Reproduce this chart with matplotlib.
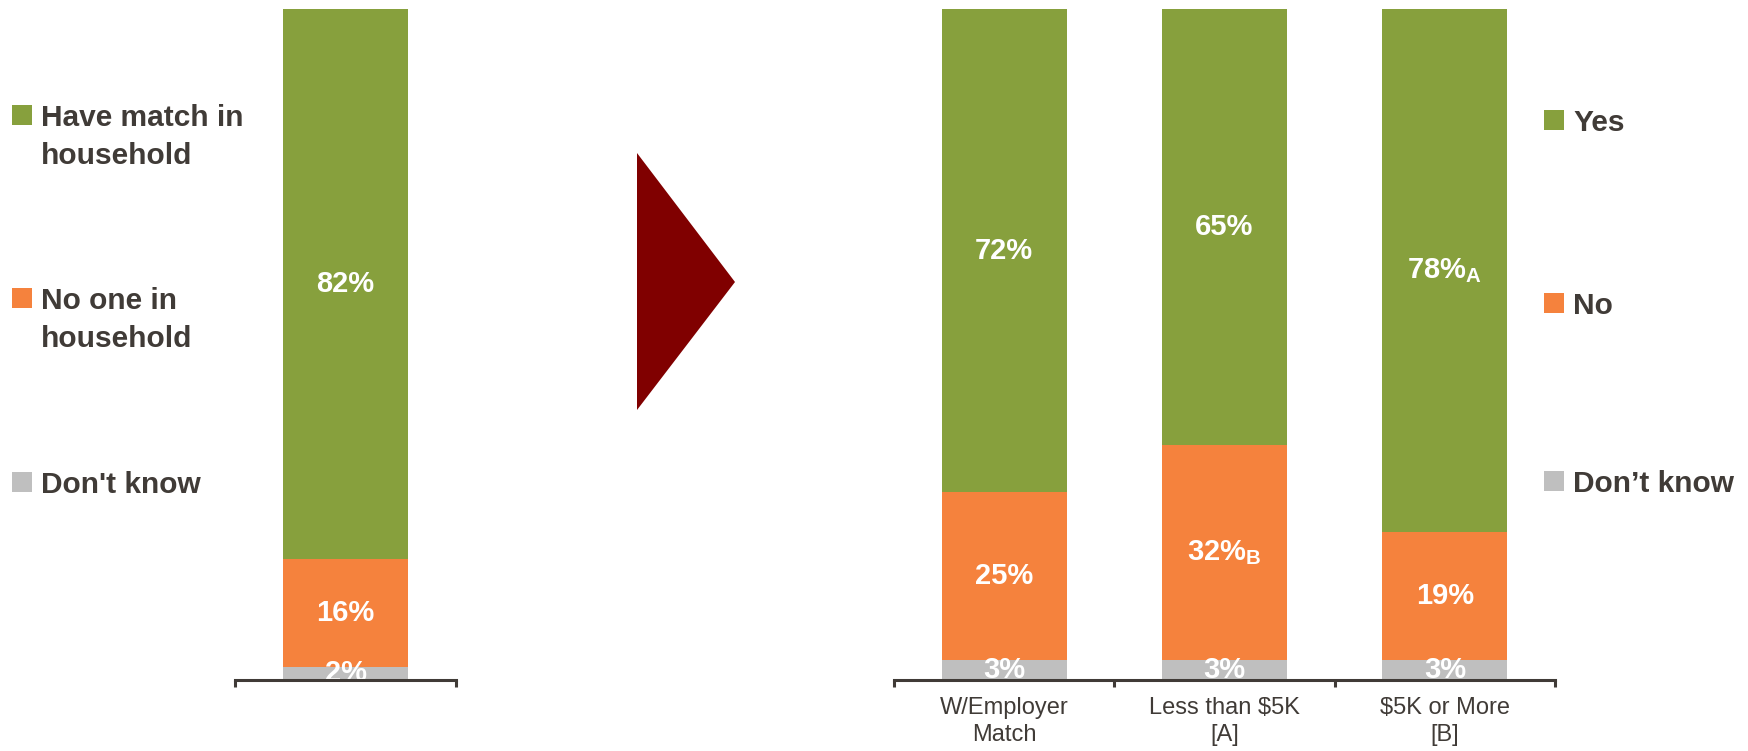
import matplotlib
matplotlib.use('Agg')
import matplotlib.pyplot as plt
from matplotlib.patches import Polygon, Rectangle
import numpy as np

plt.rcParams['font.family'] = ['Liberation Sans', 'DejaVu Sans']
plt.rcParams['mathtext.fontset'] = 'custom'
plt.rcParams['mathtext.rm'] = 'Liberation Sans'
plt.rcParams['mathtext.bf'] = 'Liberation Sans:bold'

# data
left_labels = ['Have match in\nhousehold', 'No one in\nhousehold', "Don't know"]
left_vals = [82, 16, 2]          # green, orange, gray

right_cats = ['W/Employer\nMatch', 'Less than $5K\n[A]', '$5K or More\n[B]']
right_legend = ['Yes', 'No', 'Don\u2019t know']
yes = [72, 65, 78]
no = [25, 32, 19]
dk = [3, 3, 3]
yes_sig = ['', '', 'A']
no_sig = ['', 'B', '']

green = '#87A03D'
orange = '#F5823D'
gray = '#BFBFBF'
dark = '#403B37'
colors = [green, orange, gray]

W, H = 1748, 751
fig = plt.figure(figsize=(W / 100, H / 100), dpi=100)

def fx(px):
    return px / W

def fy(py):
    return 1 - py / H

bw = 0.566
ybot = fy(680)
yh = fy(9) - ybot


def lab(ax, x, y, v, sig=''):
    s = '%d%%' % v
    if sig:
        s += r'$_{\mathbf{%s}}$' % sig
    ax.text(x, y, s, ha='center', va='center', color='white',
            fontsize=21, fontweight='bold', zorder=2)


def style(ax, n):
    for sp in ['top', 'right', 'left']:
        ax.spines[sp].set_visible(False)
    ax.spines['bottom'].set_color(dark)
    ax.spines['bottom'].set_linewidth(2.2)
    ax.spines['bottom'].set_zorder(3)
    ax.set_ylim(0, 100)
    ax.set_xlim(-0.5, n - 0.5)
    ax.set_yticks([])
    ax.set_xticks(np.arange(n + 1) - 0.5)
    ax.set_xticklabels([])
    ax.tick_params(axis='x', which='major', direction='out', length=5,
                   width=2.2, color=dark)


# left chart
axl = fig.add_axes([fx(235), ybot, fx(456) - fx(235), yh])
bottom = 0
for v, c in zip(left_vals[::-1], colors[::-1]):
    axl.bar(0, v, bw, bottom=bottom, color=c, zorder=1)
    lab(axl, 0, bottom + v / 2, v)
    bottom += v
style(axl, 1)

# right chart
axr = fig.add_axes([fx(894), ybot, fx(1555) - fx(894), yh])
x = np.arange(len(right_cats))
axr.bar(x, dk, bw, color=gray, zorder=1)
axr.bar(x, no, bw, bottom=dk, color=orange, zorder=1)
b2 = np.array(dk) + np.array(no)
axr.bar(x, yes, bw, bottom=b2, color=green, zorder=1)
for i in x:
    lab(axr, i, dk[i] / 2, dk[i])
    lab(axr, i, dk[i] + no[i] / 2, no[i], no_sig[i])
    lab(axr, i, b2[i] + yes[i] / 2, yes[i], yes_sig[i])
style(axr, len(right_cats))
axr.set_xticks(x, minor=True)
axr.set_xticklabels(right_cats, minor=True, fontsize=17, color=dark,
                    linespacing=1.3)
axr.tick_params(axis='x', which='minor', length=0, pad=12)

# legends
sq = 20
for lbl, c, top in zip(left_labels, colors, [105, 288, 472]):
    fig.add_artist(Rectangle((fx(12), fy(top + sq)), sq / W, sq / H,
                             transform=fig.transFigure, color=c, lw=0))
    fig.text(fx(41), fy(top - 1), lbl, ha='left', va='top', fontsize=21.5,
             fontweight='bold', color=dark, linespacing=1.45)

for lbl, c, top in zip(right_legend, colors, [110, 293, 471]):
    fig.add_artist(Rectangle((fx(1544), fy(top + sq)), sq / W, sq / H,
                             transform=fig.transFigure, color=c, lw=0))
    fig.text(fx(1573), fy(top - 1), lbl, ha='left', va='top', fontsize=21.5,
             fontweight='bold', color=dark)

# arrow
tri = Polygon([(fx(637), fy(153)), (fx(637), fy(410)), (fx(735), fy(282))],
              closed=True, transform=fig.transFigure, color='#800000', lw=0)
fig.add_artist(tri)

fig.savefig('out.png', dpi=100)
